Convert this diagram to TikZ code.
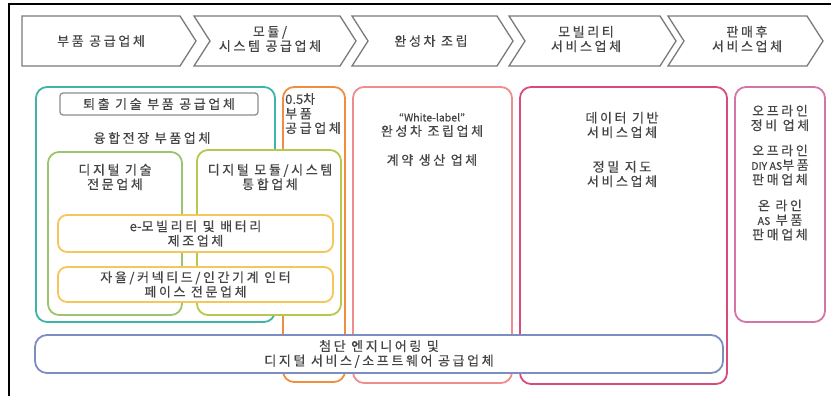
\documentclass[tikz,border=0pt]{standalone}
\usepackage{fontspec}
\setmainfont{Noto Sans CJK KR}
\newfontfamily\kr[LetterSpace=20,FakeBold=0.4]{Noto Sans CJK KR}
\newfontfamily\lat[FakeBold=0.4]{Noto Sans CJK KR}
\usetikzlibrary{fit}
\definecolor{tealc}{HTML}{3FB5A5}
\definecolor{greenc}{HTML}{9CC46E}
\definecolor{ygreenc}{HTML}{B8C84C}
\definecolor{orangec}{HTML}{EF8E3F}
\definecolor{yellowc}{HTML}{F5C65A}
\definecolor{salmonc}{HTML}{EF8C8C}
\definecolor{magentac}{HTML}{D94A7E}
\definecolor{pinkc}{HTML}{D276A8}
\definecolor{bluec}{HTML}{7C8DBF}
\definecolor{grayc}{HTML}{8C8C8C}
\definecolor{chevc}{HTML}{7A7A7A}
\definecolor{txtc}{HTML}{444444}
\begin{document}
\begin{tikzpicture}[x=1pt,y=-1pt,
  box/.style={draw, fill=white, rounded corners=11pt, line width=1.8pt, inner sep=0pt},
  txt/.style={align=center, text=txtc, inner sep=0pt, font=\kr\fontsize{13}{14.5}\selectfont},
  chev/.style={draw=chevc, fill=white, line width=1.3pt, line join=miter}]
\useasboundingbox (0,0) rectangle (831,396);
\draw[line width=1.2pt] (9,396) -- (9,4) -- (831,4);

% chevrons
\draw[chev] (22,16) -- (180,16) -- (196,41) -- (180,66) -- (22,66) -- cycle;
\draw[chev] (194,16) -- (340,16) -- (356,41) -- (340,66) -- (194,66) -- (210,41) -- cycle;
\draw[chev] (352,16) -- (497,16) -- (513,41) -- (497,66) -- (352,66) -- (368,41) -- cycle;
\draw[chev] (509,16) -- (660,16) -- (676,41) -- (660,66) -- (509,66) -- (525,41) -- cycle;
\draw[chev] (668,16) -- (807,16) -- (823,41) -- (807,66) -- (668,66) -- (684,41) -- cycle;
\node[txt] (h1) at (101,41) {부품 공급업체};
\node[txt] (h2) at (270,39) {모듈/\\시스템 공급업체};
\node[txt] (h3) at (431,41) {완성차 조립};
\node[txt] (h4) at (586,39) {모빌리티\\서비스업체};
\node[txt] (h5) at (747,39) {판매후\\서비스업체};

% boxes
\node[box, draw=tealc, fit={(36,87) (275,322)}] (teal) {};
\node[box, draw=orangec, fit={(283,87) (345,382)}] (orange) {};
\node[box, draw=salmonc, fit={(353,87) (512,383)}] (salmon) {};
\node[box, draw=magentac, fit={(520,87) (727,384)}] (magenta) {};
\node[box, draw=pinkc, fit={(735,87) (825,322)}] (pink) {};
\node[box, draw=grayc, line width=1.2pt, rounded corners=3pt, fit={(60,93) (258,115)}] (gray) {};
\node[box, draw=greenc, fit={(48,152) (182,315)}] (green) {};
\node[box, draw=ygreenc, fit={(197,150) (341,315)}] (ygreen) {};
\node[box, draw=yellowc, rounded corners=9pt, fit={(58,215) (333,252)}] (yel1) {};
\node[box, draw=yellowc, rounded corners=9pt, fit={(58,267) (333,302)}] (yel2) {};
\node[box, draw=bluec, rounded corners=12pt, fit={(35,335) (723,373)}] (blue) {};

% texts
\node[txt] (t1) at (gray.center) {퇴출 기술 부품 공급업체};
\node[txt] (t2) at (152,138) {융합전장 부품업체};
\node[txt] (t3) at (115,177) {디지털 기술\\전문업체};
\node[txt] (t4) at (270,177) {디지털 모듈/시스템\\통합업체};
\node[txt] (t5) at (yel1.center) {{\lat e-}모빌리티 및 배터리\\제조업체};
\node[txt] (t6) at (yel2.center) {자율/커넥티드/인간기계 인터\\페이스 전문업체};
\node[txt, align=left, anchor=north west] (t7) at (285,93) {{\lat 0.5}차\\부품\\공급업체};
\node[txt] (t8) at (432,125) {{\lat\fontsize{10.5}{14.5}\selectfont “White-label”}\\완성차 조립업체};
\node[txt] (t9) at (432,160) {계약 생산 업체};
\node[txt] (t10) at (622,125) {데이터 기반\\서비스업체};
\node[txt] (t11) at (622,174) {정밀 지도\\서비스업체};
\node[txt] (t12) at (780,118) {오프라인\\정비 업체};
\node[txt] (t13) at (780,165) {오프라인\\{\lat\fontsize{10.5}{14.5}\selectfont DIY AS}부품\\판매업체};
\node[txt] (t14) at (780,220) {온 라인\\{\lat\fontsize{10.5}{14.5}\selectfont AS} 부품\\판매업체};
\node[txt] (t15) at (blue.center) {첨단 엔지니어링 및\\디지털 서비스/소프트웨어 공급업체};
\end{tikzpicture}
\end{document}
